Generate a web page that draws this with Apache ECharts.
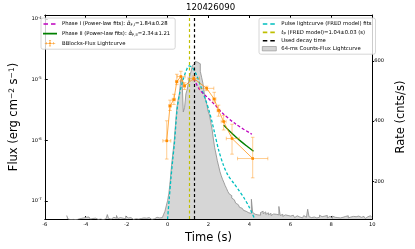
<!DOCTYPE html>
<html><head><meta charset="utf-8">
<script src="https://cdn.jsdelivr.net/npm/echarts@6/dist/echarts.min.js"></script>
<style>html,body{margin:0;padding:0;background:#fff}#c{width:415px;height:249px}</style>
</head><body><div id="c"></div>
<script>
// ---------------- data ----------------
const chartTitle = '120426090';
const xMin = -6, xMax = 10, xStep = 2;
const fluxTicks = [1e-7, 1e-6, 1e-5, 1e-4];
const fluxRange = [5.0e-8, 1.17e-4];
const rateTicks = [200, 400, 600];
const rateRange = [74, 752];

// Bayesian-blocks flux light curve (time, flux, time range, flux range)
const bbT    = [-0.04, 0.12, 0.31, 0.45, 0.65, 0.83, 1.28, 1.91, 2.28, 2.49, 2.74, 3.15, 4.16];
const bbTlo  = [-0.23, 0.06, 0.23, 0.39, 0.47, 0.78, 1.00, 1.56, 2.21, 2.42, 2.62, 2.87, 3.42];
const bbThi  = [ 0.16, 0.18, 0.39, 0.51, 0.86, 0.88, 1.56, 2.26, 2.36, 2.56, 2.86, 3.50, 4.90];
const bbF    = [9.8e-7, 3.7e-6, 4.7e-6, 9.3e-6, 1.13e-5, 7.9e-6, 1.05e-5, 7.2e-6, 4.8e-6, 3.1e-6, 2.04e-6, 1.07e-6, 5.0e-7];
const bbFlo  = [4.9e-7, 3.1e-6, 3.9e-6, 8.3e-6, 9.5e-6, 6.9e-6, 9.6e-6, 6.6e-6, 4.25e-6, 2.5e-6, 1.48e-6, 5.9e-7, 2.4e-7];
const bbFhi  = [2.1e-6, 4.6e-6, 5.75e-6, 1.23e-5, 1.38e-5, 8.9e-6, 1.15e-5, 7.8e-6, 6.2e-6, 3.8e-6, 2.57e-6, 1.84e-6, 1.12e-6];

// Phase I power-law fit (magenta), Phase II (green)
const p1T = [1.28, 1.56, 1.87, 2.33, 2.64, 3.34, 4.12];
const p1F = [1.05e-5, 6.9e-6, 5.4e-6, 3.8e-6, 2.9e-6, 1.84e-6, 1.26e-6];
const p2T = [2.74, 3.0, 3.3, 3.6, 3.9, 4.2];
const p2F = [1.78e-6, 1.45e-6, 1.17e-6, 9.5e-7, 7.9e-7, 6.6e-7];

// FRED pulse fit (rate axis)
const fredT = [0.0, 0.08, 0.16, 0.25, 0.33, 0.47, 0.6, 0.75, 0.9, 1.05, 1.2, 1.4, 1.63, 1.87, 2.02, 2.18, 2.3, 2.49, 2.72, 2.95, 3.27, 3.5, 3.73, 3.98, 4.26];
const fredR = [74, 140, 205, 270, 322, 440, 495, 535, 565, 583, 578, 555, 513, 468, 436, 395, 360, 305, 255, 220, 190, 168, 145, 115, 74];

const tpTime = 1.04;
const decayTime = 1.31;

// 64-ms counts light curve
const histStart = -4.928, binWidth = 0.064;
const histPre = [86,74,72,76,73,75,71,77,74,72,76,73,78,75,80,78,81,79,74,76,72,77,75,73,78,74,76,72,77,75,79,89,76,74,78,80,75,77,86,76,79,73,77,80,75,84,78,74,79,76,73,78,75,77,74,80,76,73,78,75,77,74,79,76,73,77,75,78,80,76,78,75,79];
const histPulse = [83,90,100,118,135,160,200,250,290,330,385,440,470,490,535,545,430,445,490,505,530,552,565,585,590,598,595,600,590,565,545,525,495,470,455,432,420,395,372,340,311,290,268,250,232,218,206,196,185,176,166,158,152,144,138,132,127,122,118,113,110,106,103,100,97,95,98,93,140,96,90,94,88,92,87];
const histTail = [96,100,92,98,90,95,88,93,86,91,85,90,84,88,116,86,90,83,88,82,86,90,84,80,87,83,79,85,88,81,84,78,83,86,80,84,107,82,79,85,81,86,78,83,80,87,82,79,84,80,86,78,83,81,77,84,80,85,79,82,78,84,80,77,83,79,85,78,81,77,83,79,82,76,84,78,80,77,83,79,76,82,78,85,79];

// ---------------- build ----------------
const orange = '#ff8c00';
const FONT = 'DejaVu Sans';
const histRate = histPre.concat(histPulse, histTail);
const histData = histRate.map((r, i) => [histStart + i * binWidth, r]);
histData.push([histStart + histRate.length * binWidth, histRate[histRate.length - 1]]);

const bbRows = bbT.map((t, i) => [t, bbF[i], bbTlo[i], bbThi[i], bbFlo[i], bbFhi[i]]);
const p1Data = p1T.map((t, i) => [t, p1F[i]]);
const p2Data = p2T.map((t, i) => [t, p2F[i]]);
const fredData = fredT.map((t, i) => [t, fredR[i]]);

const legendText = {
  p1: 'Phase I (Power-law fits): {m|α̂}{sub|F,I}=1.84±0.28',
  p2: 'Phase II (Power-law fits): {m|α̂}{sub|F,II}=2.34±1.21',
  bb: 'BBlocks-Flux Lightcurve',
  fred: 'Pulse lightcurve (FRED model) fits',
  tp: '{m|t}{sub|p} (FRED model)=1.04±0.03 (s)',
  decay: 'Used decay time',
  hist: '64-ms Counts-Flux Lightcurve'
};
const legendRich = {
  m: {fontSize: 5.6, fontFamily: FONT, fontStyle: 'italic'},
  sub: {fontSize: 3.8, fontFamily: FONT, verticalAlign: 'bottom', padding: [2, 0, 0, 0]}
};
const corners = 'M0,0H0.02V0.02H0Z M13.98,5.98H14V6H13.98Z ';
const dashIcon = 'path://' + corners + 'M0.5,2.2H5V3.8H0.5Z M8,2.2H12.5V3.8H8Z';
const solidIcon = 'path://' + corners + 'M0,2.2H14V3.8H0Z';
const errIcon = 'path://M0,3.6H14V4.4H0Z M6.6,0H7.4V8H6.6Z M5.6,0H8.4V0.6H5.6Z M5.6,7.4H8.4V8H5.6Z M2,2.4H2.6V5.6H2Z M11.4,2.4H12V5.6H11.4Z M6,3H8V5H6Z';

const chart = echarts.init(document.getElementById('c'), null, {renderer: 'canvas'});
chart.setOption({
  animation: false,
  backgroundColor: '#fff',
  title: {text: chartTitle, left: 186, top: 3, padding: 0,
    textStyle: {fontSize: 8.6, fontWeight: 'normal', color: '#000', fontFamily: FONT}},
  grid: {left: 38, right: 34, top: 15, bottom: 29, containLabel: false},
  legend: [
    {left: 41, top: 18, orient: 'vertical', itemWidth: 14, itemHeight: 6, itemGap: 3.6,
     padding: [3, 5, 3, 2], borderColor: '#cccccc', borderWidth: 0.8, borderRadius: 2, backgroundColor: 'rgba(255,255,255,0.8)',
     textStyle: {fontSize: 5.3, color: '#000', fontFamily: FONT, rich: legendRich},
     formatter: n => legendText[n],
     data: [{name: 'p1', icon: dashIcon, itemStyle: {color: '#bf00bf'}},
            {name: 'p2', icon: solidIcon, itemStyle: {color: '#008000'}},
            {name: 'bb', icon: errIcon, itemStyle: {color: orange}}]},
    {left: 259, top: 18, orient: 'vertical', itemWidth: 14, itemHeight: 6, itemGap: 2.4,
     padding: [3, 4, 3, 3], borderColor: '#cccccc', borderWidth: 0.8, borderRadius: 2, backgroundColor: 'rgba(255,255,255,0.8)',
     textStyle: {fontSize: 5.3, color: '#000', fontFamily: FONT, rich: legendRich},
     formatter: n => legendText[n],
     data: [{name: 'fred', icon: dashIcon, itemStyle: {color: '#00bfbf'}},
            {name: 'tp', icon: dashIcon, itemStyle: {color: '#bfbf00'}},
            {name: 'decay', icon: dashIcon, itemStyle: {color: '#000'}},
            {name: 'hist', icon: 'path://M0,0.8H14V5.2H0Z', itemStyle: {color: '#d3d3d3', borderColor: '#8c8c8c', borderWidth: 0.6}}]}
  ],
  xAxis: [
    {type: 'value', min: xMin, max: xMax, interval: xStep, position: 'bottom',
     name: 'Time (s)', nameLocation: 'middle', nameGap: 10,
     nameTextStyle: {fontSize: 11.5, color: '#000', fontFamily: FONT},
     axisLine: {onZero: false, lineStyle: {color: '#000', width: 1}},
     axisTick: {inside: true, length: 3, lineStyle: {color: '#000'}},
     axisLabel: {fontSize: 5.2, color: '#000', margin: 3, fontFamily: FONT},
     splitLine: {show: false}},
    {type: 'value', min: xMin, max: xMax, interval: xStep, position: 'top',
     axisLine: {onZero: false, lineStyle: {color: '#000', width: 1}},
     axisTick: {inside: true, length: 3, lineStyle: {color: '#000'}},
     axisLabel: {show: false}, splitLine: {show: false}}
  ],
  yAxis: [
    {type: 'log', min: fluxRange[0], max: fluxRange[1], position: 'left',
     name: 'Flux (erg cm{sup|−2} s{sup|−1})', nameLocation: 'middle', nameGap: 18, nameRotate: 90,
     nameTextStyle: {fontSize: 11.5, color: '#000', fontFamily: FONT,
       rich: {sup: {fontSize: 7.5, verticalAlign: 'top', padding: [0, 0, 5, 0], fontFamily: FONT}}},
     axisLine: {show: true, onZero: false, lineStyle: {color: '#000', width: 1}},
     axisTick: {show: true, inside: true, length: 3, customValues: fluxTicks, lineStyle: {color: '#000'}},
     axisLabel: {fontSize: 5.2, color: '#000', margin: 3, fontFamily: FONT, customValues: fluxTicks,
       formatter: v => '10{sup|' + Math.round(Math.log10(v)) + '}',
       rich: {sup: {fontSize: 3.8, verticalAlign: 'top', padding: [0, 0, 3, 0], fontFamily: FONT}}},
     minorTick: {show: false}, splitLine: {show: false}},
    {type: 'value', min: rateRange[0], max: rateRange[1], position: 'right',
     name: 'Rate (cnts/s)', nameLocation: 'middle', nameGap: 16, nameRotate: 90,
     nameTextStyle: {fontSize: 11.5, color: '#000', fontFamily: FONT},
     axisLine: {show: true, onZero: false, lineStyle: {color: '#000', width: 1}},
     axisTick: {show: true, inside: false, length: 2, customValues: rateTicks, lineStyle: {color: '#000'}},
     axisLabel: {fontSize: 5.2, color: '#000', margin: 2, fontFamily: FONT, customValues: rateTicks},
     splitLine: {show: false}}
  ],
  series: [
    {name: 'hist', type: 'line', xAxisIndex: 0, yAxisIndex: 1, step: 'end', data: histData,
     symbol: 'none', z: 1, clip: true,
     lineStyle: {color: '#8c8c8c', width: 0.8}, itemStyle: {color: '#d3d3d3'},
     areaStyle: {color: '#d6d6d6', opacity: 1}},
    {name: 'fred', type: 'line', xAxisIndex: 0, yAxisIndex: 1, data: fredData, smooth: 0.3,
     symbol: 'none', z: 3, clip: true,
     lineStyle: {color: '#00bfbf', width: 1.3, type: [3, 2]}, itemStyle: {color: '#00bfbf'}},
    {name: 'tp', type: 'line', xAxisIndex: 0, yAxisIndex: 0, data: [], symbol: 'none', z: 4,
     lineStyle: {color: '#bfbf00', width: 1.2, type: [3, 2.5]}, itemStyle: {color: '#bfbf00'},
     markLine: {silent: true, symbol: 'none', label: {show: false},
       lineStyle: {color: '#bfbf00', width: 1.2, type: [3, 2.5]}, data: [{xAxis: tpTime}]}},
    {name: 'decay', type: 'line', xAxisIndex: 0, yAxisIndex: 0, data: [], symbol: 'none', z: 4,
     lineStyle: {color: '#000', width: 1.2, type: [3, 2.5]}, itemStyle: {color: '#000'},
     markLine: {silent: true, symbol: 'none', label: {show: false},
       lineStyle: {color: '#000', width: 1.2, type: [3, 2.5]}, data: [{xAxis: decayTime}]}},
    {name: 'p1', type: 'line', xAxisIndex: 0, yAxisIndex: 0, data: p1Data, smooth: 0.3,
     symbol: 'none', z: 5,
     lineStyle: {color: '#bf00bf', width: 1.3, type: [3, 2]}, itemStyle: {color: '#bf00bf'}},
    {name: 'p2', type: 'line', xAxisIndex: 0, yAxisIndex: 0, data: p2Data, smooth: 0.3,
     symbol: 'none', z: 5,
     lineStyle: {color: '#008000', width: 1.4}, itemStyle: {color: '#008000'}},
    {name: 'bb', type: 'line', xAxisIndex: 0, yAxisIndex: 0, data: bbRows.map(r => [r[0], r[1]]),
     symbol: 'rect', symbolSize: 2.6, z: 7,
     lineStyle: {color: orange, width: 0.8, opacity: 0.9}, itemStyle: {color: orange}},
    {name: 'bbErr', type: 'custom', xAxisIndex: 0, yAxisIndex: 0, data: bbRows, z: 6, clip: true,
     encode: {x: 0, y: 1},
     renderItem: function (params, api) {
       const t = api.value(0), f = api.value(1), tl = api.value(2), th = api.value(3), fl = api.value(4), fh = api.value(5);
       const pl = api.coord([t, fl]), ph = api.coord([t, fh]);
       const ql = api.coord([tl, f]), qh = api.coord([th, f]);
       const cap = 1.8;
       const st = {stroke: orange, lineWidth: 0.8, opacity: 0.55};
       const L = (x1, y1, x2, y2) => ({type: 'line', shape: {x1, y1, x2, y2}, style: st});
       return {type: 'group', children: [
         L(pl[0], pl[1], ph[0], ph[1]),
         L(pl[0] - cap, pl[1], pl[0] + cap, pl[1]),
         L(ph[0] - cap, ph[1], ph[0] + cap, ph[1]),
         L(ql[0], ql[1], qh[0], qh[1]),
         L(ql[0], ql[1] - cap, ql[0], ql[1] + cap),
         L(qh[0], qh[1] - cap, qh[0], qh[1] + cap)
       ]};
     }}
  ]
});
</script>
</body></html>
